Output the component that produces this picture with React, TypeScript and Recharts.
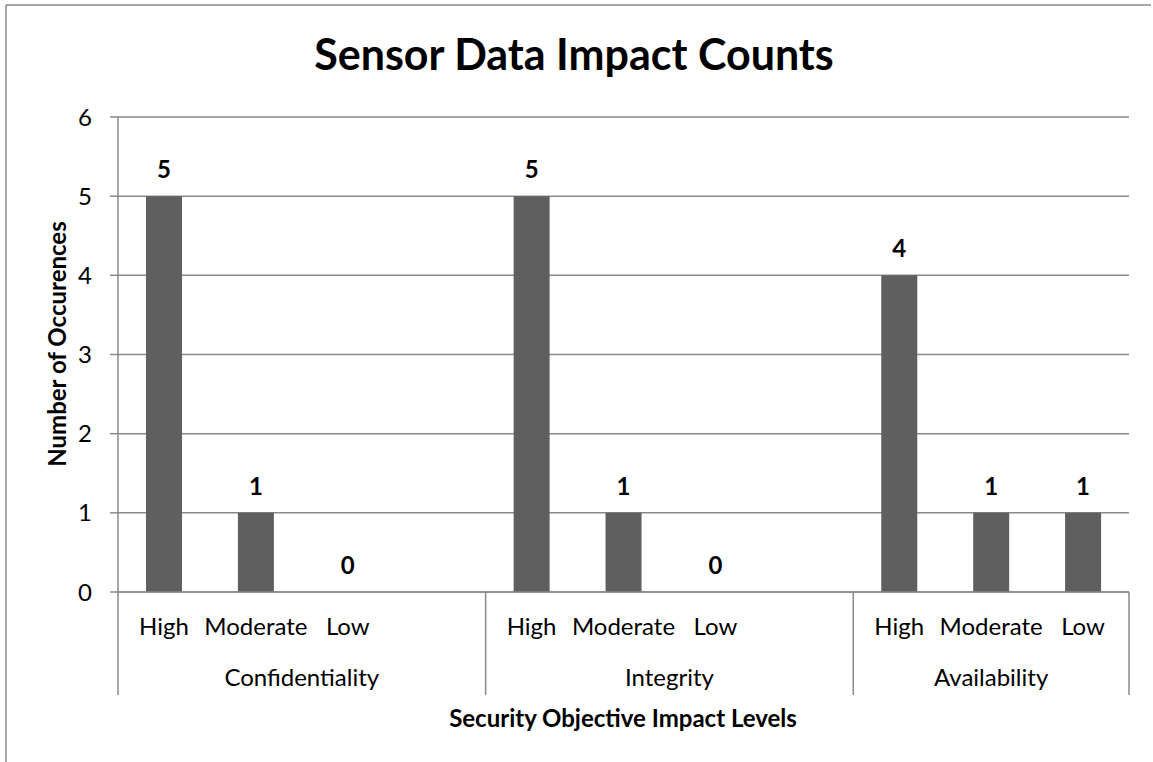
import { Bar, CartesianGrid, ComposedChart, LabelList, Line, XAxis, YAxis } from "recharts"

const levels = ["High", "Moderate", "Low", "", "High", "Moderate", "Low", "", "High", "Moderate", "Low"]
const counts: (number | null)[] = [5, 1, 0, null, 5, 1, 0, null, 4, 1, 1]
const groups = ["Confidentiality", "Integrity", "Availability"]
const groupSpans = [4, 4, 3]
const yTicks = [0, 1, 2, 3, 4, 5, 6]

const data = levels.map((level, i) => ({ key: `c${i}`, level, count: counts[i] }))

const W = 1153
const H = 762
const margin = { top: 117, right: 24, bottom: 0, left: 0 }
const yAxisWidth = 118
const bw = (W - margin.left - margin.right - yAxisWidth) / levels.length

const groupStarts = groupSpans.map((_, g) => groupSpans.slice(0, g).reduce((a, b) => a + b, 0))

const font = "Lato, Carlito, Calibri, sans-serif"
const gray = "#898989"
const fs = 24

const LevelTick = (props: any) => {
  const { x, y, index } = props
  const g = groupStarts.indexOf(index)
  const left = x - bw / 2
  return (
    <g>
      <text x={x} y={y + 43} textAnchor="middle" fontSize={fs} fontFamily={font} fill="#000">
        {levels[index]}
      </text>
      {g >= 0 && (
        <>
          <line x1={left} x2={left} y1={y} y2={y + 103} stroke={gray} strokeWidth={1.5} />
          <text x={left + (groupSpans[g] * bw) / 2} y={y + 94} textAnchor="middle" fontSize={fs} fontFamily={font} fill="#000">
            {groups[g]}
          </text>
        </>
      )}
      {index === levels.length - 1 && (
        <line x1={x + bw / 2} x2={x + bw / 2} y1={y} y2={y + 103} stroke={gray} strokeWidth={1.5} />
      )}
    </g>
  )
}

// value label above each bar (zero included), hung on an invisible line series
const BarValue = (p: any) => {
  if (p.value === null || p.value === undefined) return null
  return (
    <text x={p.x + (p.width || 0) / 2} y={p.y - 18} textAnchor="middle" fontSize={fs} fontWeight="bold" fontFamily={font} fill="#000">
      {String(p.value)}
    </text>
  )
}

export default function App() {
  return (
    <div style={{ position: "absolute", left: 0, top: 0, width: W, height: H, overflow: "hidden", background: "#fff" }}>
      <style>{"html,body{margin:0;overflow:hidden}"}</style>
      <ComposedChart width={W} height={H} data={data} margin={margin}>
        <CartesianGrid horizontal vertical={false} stroke={gray} strokeWidth={1.5} />
        <XAxis
          dataKey="key"
          height={H - margin.top - 475}
          tick={<LevelTick />}
          tickLine={false}
          tickSize={0}
          tickMargin={0}
          interval={0}
          axisLine={{ stroke: gray, strokeWidth: 1.5 }}
        />
        <YAxis
          width={yAxisWidth}
          domain={[0, 6]}
          ticks={yTicks}
          interval={0}
          tickSize={8}
          tickMargin={18}
          tick={{ fill: "#000", fontSize: fs, fontFamily: font }}
          tickLine={{ stroke: gray, strokeWidth: 1.5 }}
          axisLine={{ stroke: gray, strokeWidth: 1.5 }}
        />
        <Bar dataKey="count" fill="#5f5f5f" barSize={36} isAnimationActive={false} />
        <Line
          dataKey="count"
          stroke="none"
          dot={false}
          activeDot={false}
          connectNulls={false}
          isAnimationActive={false}
          legendType="none"
        >
          <LabelList dataKey="count" content={BarValue} />
        </Line>
      </ComposedChart>
      <svg width={W} height={H} style={{ position: "absolute", left: 0, top: 0, pointerEvents: "none" }}>
        <line x1={6} x2={6} y1={5} y2={H} stroke={gray} strokeWidth={1.5} />
        <line x1={6} x2={1151} y1={5} y2={5} stroke={gray} strokeWidth={1.5} />
        <text x={574} y={70} textAnchor="middle" fontSize={43} fontWeight="bold" fontFamily={font} fill="#000">
          Sensor Data Impact Counts
        </text>
        <text
          x={0}
          y={0}
          transform="translate(56 344) rotate(-90)"
          textAnchor="middle"
          dominantBaseline="central"
          fontSize={fs}
          fontWeight="bold"
          fontFamily={font}
          fill="#000"
        >
          Number of Occurences
        </text>
        <text x={623} y={727} textAnchor="middle" fontSize={fs} fontWeight="bold" fontFamily={font} fill="#000">
          Security Objective Impact Levels
        </text>
      </svg>
    </div>
  )
}
